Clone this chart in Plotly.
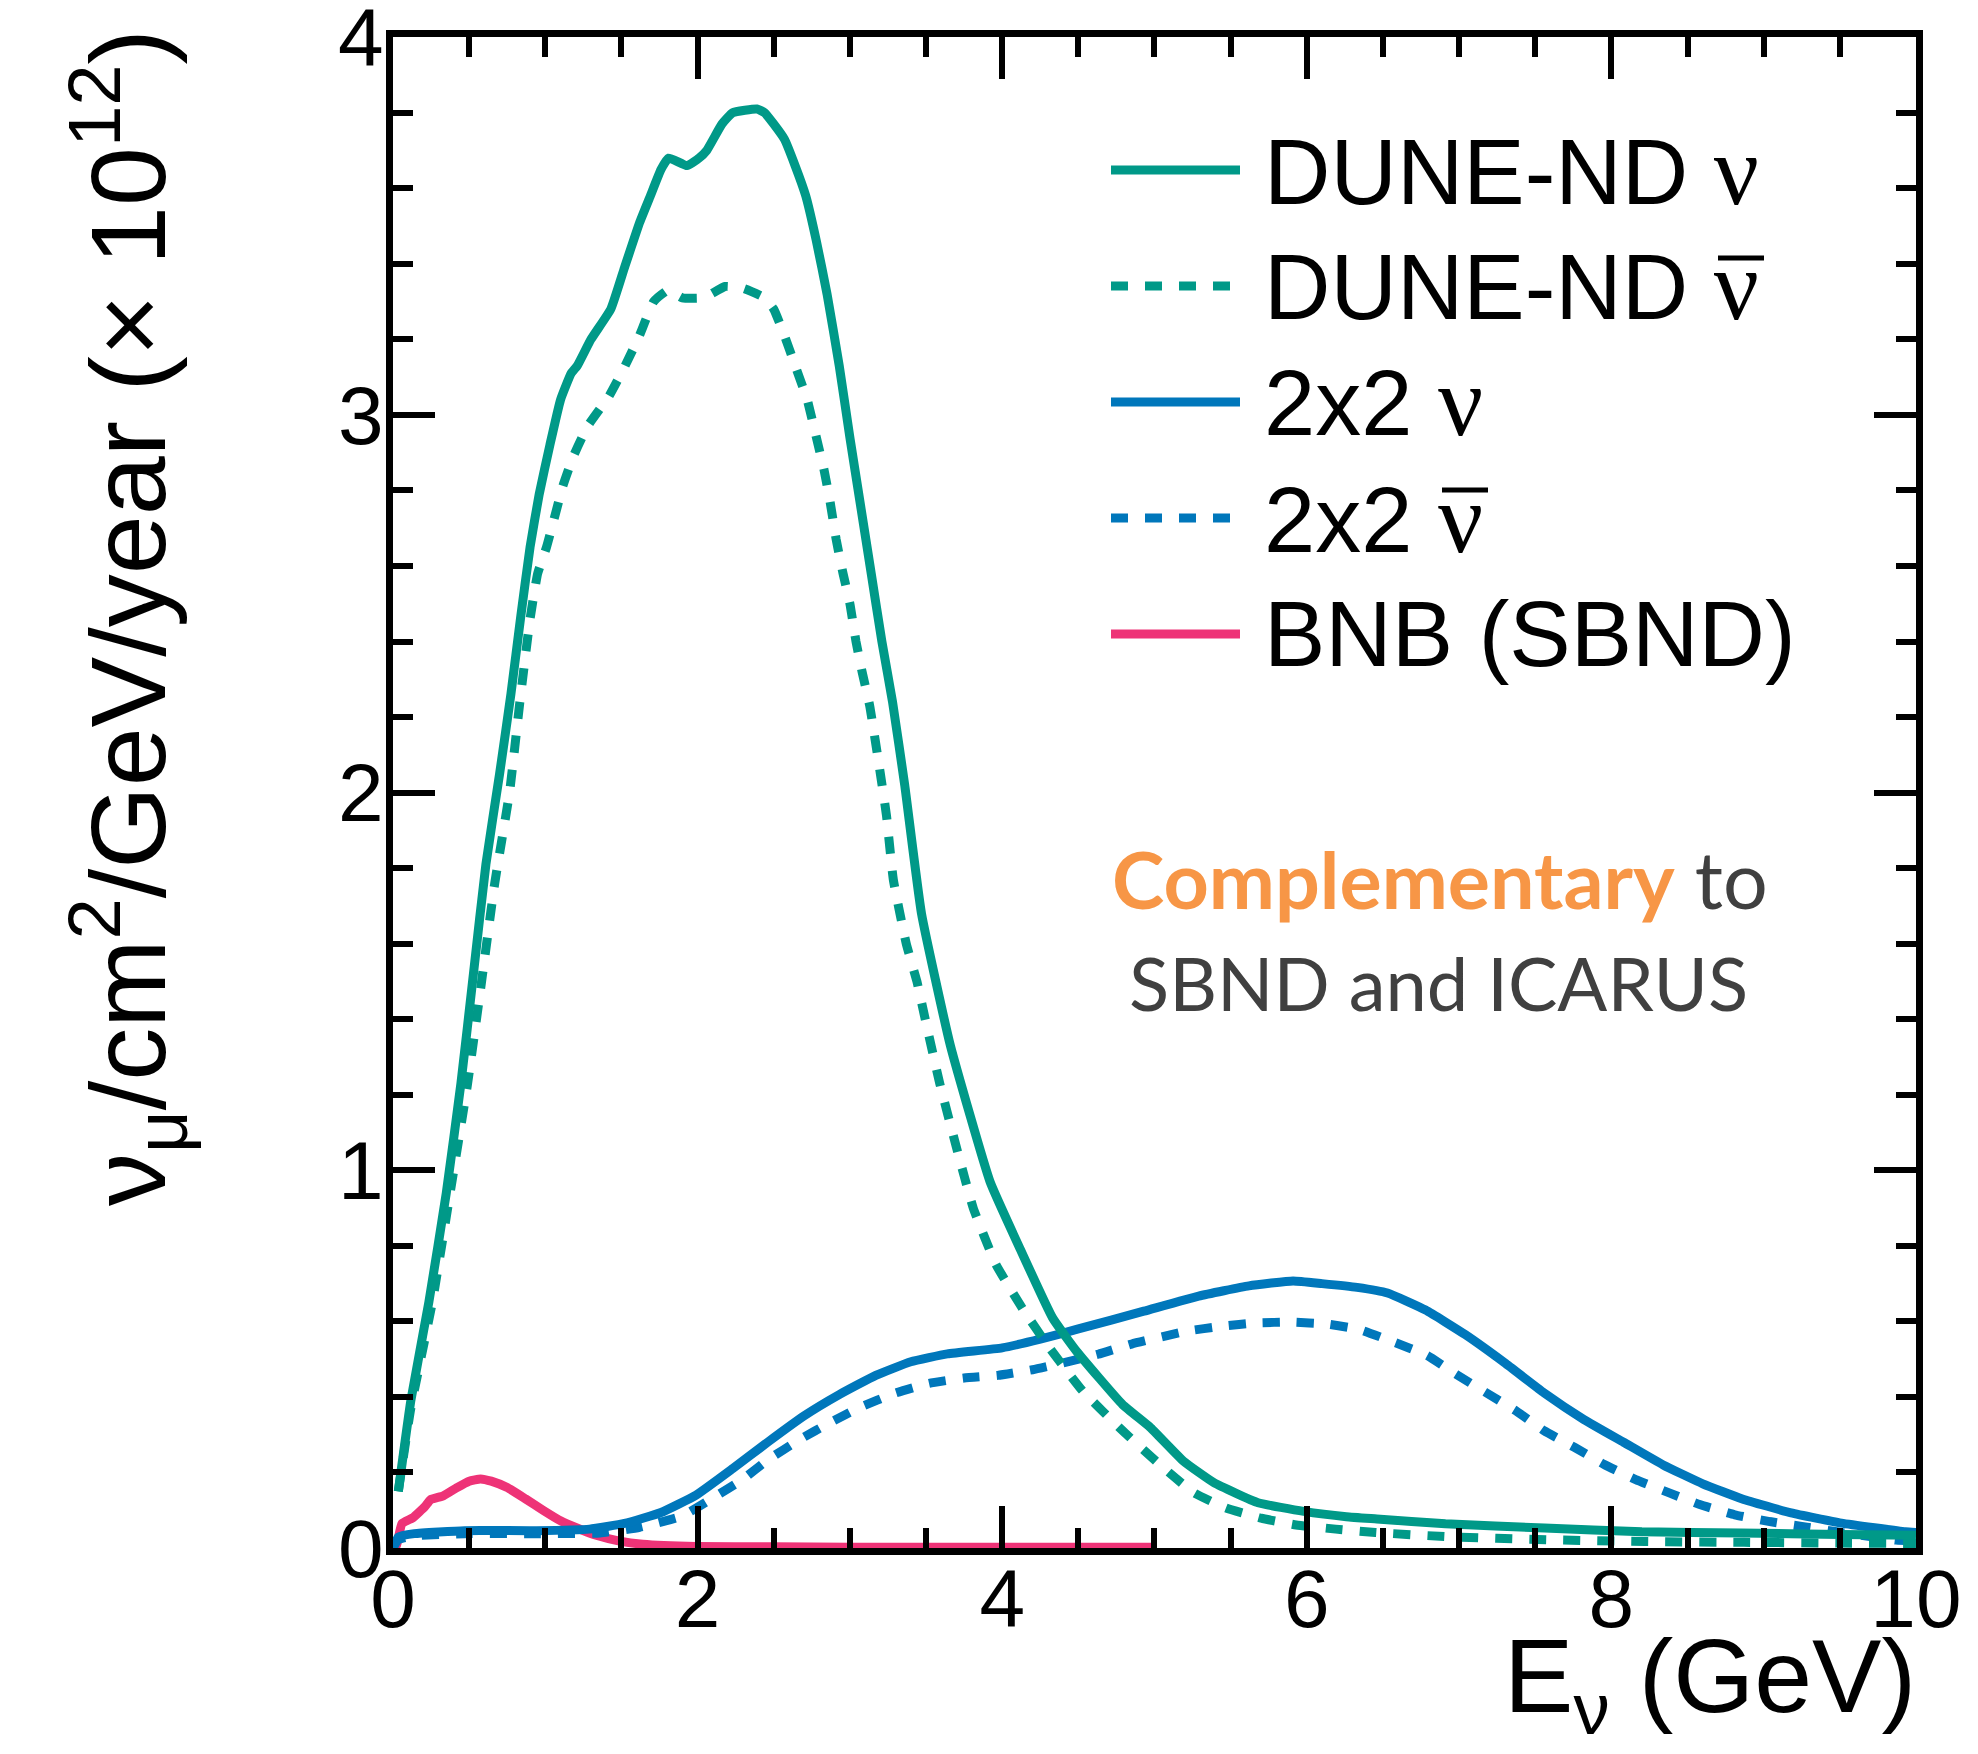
import plotly.graph_objects as go

# ---------------- data ----------------
dune_nu_E = [0.035, 0.117, 0.235, 0.35, 0.446, 0.528, 0.61, 0.70, 0.774, 0.84, 0.90, 0.96,
             1.03, 1.10, 1.17, 1.21, 1.30, 1.43, 1.52, 1.62, 1.69, 1.76, 1.81, 1.93, 2.01,
             2.06, 2.16, 2.23, 2.39, 2.44, 2.50, 2.57, 2.64, 2.71, 2.78, 2.85, 2.93, 3.00,
             3.07, 3.14, 3.21, 3.28, 3.36, 3.47, 3.66, 3.92, 4.12, 4.33, 4.49, 4.79, 4.97,
             5.19, 5.39, 5.68, 5.98, 6.26, 6.46, 6.91, 7.56, 8.20, 8.85, 9.50, 10.0]
dune_nu_V = [0.15, 0.39, 0.65, 0.94, 1.23, 1.52, 1.81, 2.05, 2.26, 2.47, 2.65, 2.79,
             2.92, 3.04, 3.11, 3.13, 3.20, 3.28, 3.39, 3.51, 3.58, 3.65, 3.68, 3.66, 3.68,
             3.70, 3.77, 3.80, 3.81, 3.80, 3.77, 3.73, 3.66, 3.58, 3.46, 3.32, 3.13, 2.94,
             2.76, 2.58, 2.40, 2.24, 2.02, 1.68, 1.33, 0.97, 0.79, 0.61, 0.52, 0.38, 0.32,
             0.23, 0.173, 0.12, 0.097, 0.083, 0.077, 0.064, 0.053, 0.043, 0.040, 0.036, 0.034]

dune_nubar_E = [0.035, 0.117, 0.258, 0.375, 0.49, 0.575, 0.668, 0.765, 0.833, 0.90, 0.95,
                1.008, 1.055, 1.114, 1.184, 1.278, 1.419, 1.524, 1.618, 1.712, 1.806, 1.90,
                2.04, 2.18, 2.30, 2.44, 2.50, 2.57, 2.65, 2.72, 2.78, 2.83, 2.87, 2.91, 2.955,
                3.00, 3.04, 3.08, 3.13, 3.20, 3.24, 3.285, 3.37, 3.44, 3.50, 3.59, 3.70, 3.81,
                3.96, 4.14, 4.31, 4.53, 4.80, 5.08, 5.26, 5.47, 5.70, 5.93, 6.19, 6.45, 6.92,
                7.57, 8.22, 8.87, 9.50, 10.0]
dune_nubar_V = [0.15, 0.37, 0.65, 0.94, 1.23, 1.48, 1.76, 2.00, 2.24, 2.46, 2.58,
                2.65, 2.72, 2.81, 2.89, 2.97, 3.05, 3.13, 3.21, 3.30, 3.33, 3.31,
                3.31, 3.34, 3.335, 3.31, 3.28, 3.21, 3.12, 3.04, 2.94, 2.855, 2.77, 2.67, 2.58,
                2.50, 2.40, 2.32, 2.23, 2.05, 1.94, 1.77, 1.60, 1.50, 1.39, 1.23, 1.06, 0.90,
                0.75, 0.63, 0.53, 0.415, 0.307, 0.205, 0.146, 0.106, 0.079, 0.061, 0.050, 0.041, 0.030,
                0.022, 0.017, 0.015, 0.013, 0.012]

twobytwo_nu_E = [0.0, 0.035, 0.14, 0.47, 0.94, 1.29, 1.52, 1.76, 1.99, 2.23, 2.46, 2.70,
                 2.93, 3.17, 3.40, 3.64, 4.00, 4.25, 4.50, 4.93, 5.29, 5.62, 5.91, 6.10,
                 6.33, 6.53, 6.78, 7.04, 7.30, 7.56, 7.82, 8.08, 8.34, 8.60, 8.86, 9.18,
                 9.51, 9.93, 10.0]
twobytwo_nu_V = [0.0, 0.029, 0.038, 0.046, 0.046, 0.05, 0.065, 0.094, 0.14, 0.21, 0.28, 0.35,
                 0.406, 0.457, 0.493, 0.514, 0.53, 0.553, 0.58, 0.627, 0.667, 0.694, 0.707, 0.70,
                 0.69, 0.675, 0.63, 0.565, 0.49, 0.41, 0.34, 0.28, 0.22, 0.17, 0.13, 0.093,
                 0.066, 0.043, 0.041]

twobytwo_nubar_E = [0.0, 0.035, 0.14, 0.47, 0.94, 1.36, 1.62, 1.90, 2.11, 2.29, 2.46, 2.67,
                    2.87, 3.07, 3.29, 3.52, 3.75, 3.97, 4.20, 4.40, 4.63, 4.85, 5.21, 5.44,
                    5.67, 5.90, 6.13, 6.35, 6.56, 6.79, 6.98, 7.17, 7.37, 7.56, 7.76, 7.95,
                    8.16, 8.38, 8.58, 8.81, 9.04, 9.25, 9.48, 9.70, 9.87, 10.0]
twobytwo_nubar_V = [0.0, 0.022, 0.032, 0.038, 0.038, 0.04, 0.055, 0.085, 0.135, 0.18, 0.233, 0.287,
                    0.332, 0.373, 0.409, 0.436, 0.45, 0.457, 0.472, 0.49, 0.513, 0.54, 0.574, 0.587,
                    0.596, 0.598, 0.593, 0.578, 0.547, 0.51, 0.46, 0.413, 0.364, 0.31, 0.266, 0.222,
                    0.181, 0.146, 0.115, 0.088, 0.07, 0.057, 0.043, 0.03, 0.021, 0.018]

bnb_E = [0.0, 0.023, 0.059, 0.13, 0.21, 0.246, 0.33, 0.42, 0.50, 0.575, 0.645, 0.75, 0.87,
         0.985, 1.10, 1.22, 1.34, 1.48, 1.64, 1.99, 2.5, 3.0, 4.0, 5.0]
bnb_V = [0.0, 0.007, 0.065, 0.08, 0.11, 0.128, 0.138, 0.16, 0.177, 0.183, 0.177, 0.16, 0.13,
         0.10, 0.072, 0.051, 0.033, 0.019, 0.010, 0.004, 0.003, 0.002, 0.002, 0.002]

series_names = ["DUNE-ND ν", "DUNE-ND ν̄", "2x2 ν", "2x2 ν̄", "BNB (SBND)"]
x_ticks = [0, 2, 4, 6, 8, 10]
y_ticks = [0, 1, 2, 3, 4]

TEAL = "#009988"
BLUE = "#0077BB"
MAGENTA = "#EE3377"

# ---------------- layout geometry (page pixels) ----------------
OFF = 8                      # default body margin of the html page
W, H = 1978 - 2 * OFF, 1754 - 2 * OFF
L, R, T, B = 393, 1916, 37, 1548   # plot frame in page pixels
PW, PH = R - L, B - T


def px(X):
    return (X - L) / PW


def py(Y):
    return (B - Y) / PH


LW = 9
DASH = "17px,17px"

fig = go.Figure()
series = [
    (dune_nu_E, dune_nu_V, TEAL, "solid"),
    (dune_nubar_E, dune_nubar_V, TEAL, DASH),
    (twobytwo_nu_E, twobytwo_nu_V, BLUE, "solid"),
    (twobytwo_nubar_E, twobytwo_nubar_V, BLUE, DASH),
    (bnb_E, bnb_V, MAGENTA, "solid"),
]
order = [4, 3, 2, 1, 0]
for i in order:
    xs, ys, col, dash = series[i]
    fig.add_trace(go.Scatter(x=xs, y=ys, mode="lines", name=series_names[i],
                             line=dict(color=col, width=LW, dash=dash, shape="spline", smoothing=0.4),
                             showlegend=False))

axis_common = dict(showline=True, linewidth=7, linecolor="black", mirror="allticks",
                   ticks="inside", ticklen=42, tickwidth=6, tickcolor="black",
                   showgrid=False, zeroline=False, ticklabeloverflow="allow", automargin=False,
                   tickfont=dict(family="Liberation Sans, Arial, sans-serif", size=82, color="black"))

fig.update_layout(
    width=W, height=H,
    margin=dict(l=L - OFF, r=W - (R - OFF), t=T - OFF, b=H - (B - OFF), autoexpand=False),
    paper_bgcolor="white", plot_bgcolor="white",
    xaxis=dict(range=[0, 10.0001], tickvals=x_ticks, ticktext=[str(v) for v in x_ticks],
               ticklabelstandoff=-26,
               minor=dict(ticks="inside", ticklen=20, tickwidth=6, tickcolor="black", dtick=0.5, tick0=0),
               **axis_common),
    yaxis=dict(range=[0, 4.0005], tickvals=y_ticks, ticktext=[str(v) for v in y_ticks],
               ticklabelstandoff=-14,
               minor=dict(ticks="inside", ticklen=20, tickwidth=6, tickcolor="black", dtick=0.2, tick0=0),
               **axis_common),
)

# ---------------- legend (drawn manually) ----------------
leg_rows = [170, 286, 402, 518, 634]
leg_styles = [(TEAL, "solid"), (TEAL, DASH), (BLUE, "solid"), (BLUE, DASH), (MAGENTA, "solid")]
SERIF = "Liberation Serif, DejaVu Serif, serif"
NU = "<span style='font-family:%s;font-size:100px'>ν</span>" % SERIF
leg_texts = ["DUNE-ND " + NU, "DUNE-ND " + NU, "2x2 " + NU, "2x2 " + NU, "BNB (SBND)"]
for yrow, (col, dash), txt in zip(leg_rows, leg_styles, leg_texts):
    fig.add_shape(type="line", xref="paper", yref="paper",
                  x0=px(1111), x1=px(1240), y0=py(yrow), y1=py(yrow),
                  line=dict(color=col, width=LW, dash=dash))
    fig.add_annotation(xref="paper", yref="paper", x=px(1262), y=py(yrow),
                       xanchor="left", yanchor="middle", showarrow=False, text=txt,
                       font=dict(family="Liberation Sans, Arial, sans-serif", size=92, color="black"))
# bars over the antineutrino symbols
for (x0, x1, yb) in [(1718, 1764, 258), (1442, 1488, 490)]:
    fig.add_shape(type="line", xref="paper", yref="paper",
                  x0=px(x0), x1=px(x1), y0=py(yb), y1=py(yb),
                  line=dict(color="black", width=5))

# ---------------- text annotation ----------------
fig.add_annotation(xref="paper", yref="paper", x=px(1440), y=py(879), xanchor="center", yanchor="middle",
                   showarrow=False,
                   text="<b><span style='color:#F79646'>Complementary</span></b> to",
                   font=dict(family="Lato, Open Sans, sans-serif", size=79, color="#404040"))
fig.add_annotation(xref="paper", yref="paper", x=px(1438), y=py(982), xanchor="center", yanchor="middle",
                   showarrow=False, text="SBND and ICARUS",
                   font=dict(family="Lato, Open Sans, sans-serif", size=74, color="#404040"))

# ---------------- axis titles ----------------
fig.add_annotation(xref="paper", yref="paper", x=px(1918), y=py(1751), xanchor="right", yanchor="bottom",
                   showarrow=False, text="E<sub>ν</sub> (GeV)",
                   font=dict(family="Liberation Sans, Arial, sans-serif", size=104, color="black"))
fig.add_annotation(xref="paper", yref="paper", x=px(128), y=py(618), xanchor="center", yanchor="middle",
                   showarrow=False, textangle=-90,
                   text="ν<sub>μ</sub>/cm<sup>2</sup>/GeV/year (× 10<sup>12</sup>)",
                   font=dict(family="Liberation Sans, Arial, sans-serif", size=106, color="black"))

fig.write_html("out.html")
